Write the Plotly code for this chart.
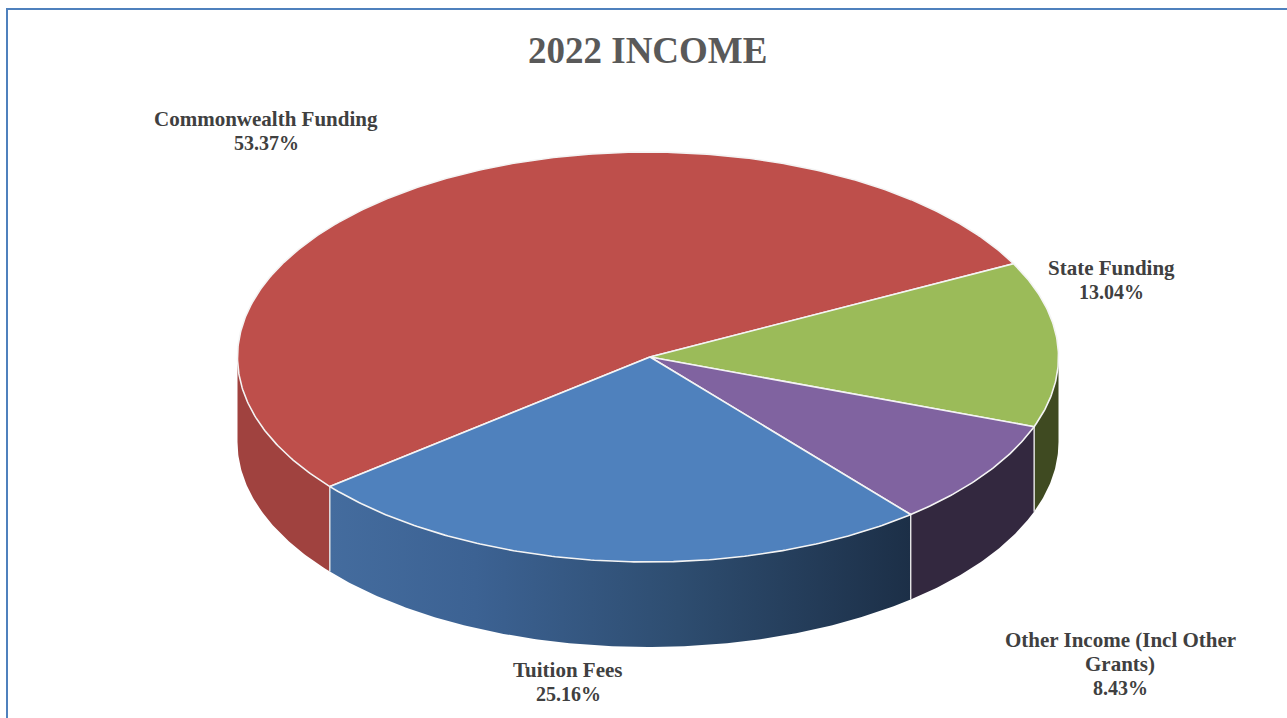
import numpy as np
import plotly.graph_objects as go

categories = ["Commonwealth Funding", "State Funding", "Other Income (Incl Other Grants)", "Tuition Fees"]
label_lines = [["Commonwealth Funding"], ["State Funding"], ["Other Income (Incl Other", "Grants)"], ["Tuition Fees"]]
shares = [53.37, 13.04, 8.43, 25.16]
top_colors = ["#BE4F4B", "#9BBB59", "#8063A0", "#4F81BD"]
wall_colors = ["#A0423F", "#3F4A21", "#33283F", None]
wall_gradient = [[0, "#446C9E"], [0.25, "#3C6293"], [0.6, "#2E4D70"], [1, "#1C2F47"]]
label_pos = [(266, 119), (1111, 268), (1120, 640), (568, 670)]

W, H = 1287, 718
CX, CY, RX, RY, DEPTH = 648, 357, 410.5, 205, 85
APEX_X = 650
START = 230.8  # clock angle where the first slice begins
LINE_GAP = 24


def rim(a0, a1):
    t = np.radians(np.linspace(a0, a1, max(int(abs(a1 - a0) * 2), 2)))
    return CX + RX * np.sin(t), CY - RY * np.cos(t)


fig = go.Figure()
edges = np.concatenate([[0], np.cumsum(shares)]) / sum(shares) * 360 + START
NONE = dict(mode="lines", hoverinfo="skip", showlegend=False)

# walls: only the parts of the rim facing the viewer (clock angles 90..270)
for i, col in enumerate(wall_colors):
    for lo, hi in [(90, 270), (450, 630)]:
        a0, a1 = max(edges[i], lo), min(edges[i + 1], hi)
        if a1 <= a0:
            continue
        x, y = rim(a0, a1)
        px = np.concatenate([x, x[::-1], x[:1]])
        py = np.concatenate([y, y[::-1] + DEPTH, y[:1]])
        kw = dict(fillcolor=col) if col else dict(
            fillgradient=dict(type="horizontal", colorscale=wall_gradient))
        fig.add_trace(go.Scatter(x=px, y=py, fill="toself", line=dict(width=0), **kw, **NONE))
        # light seams where walls meet
        for side in (a0, a1):
            if side in (lo, hi):
                continue
            sx, sy = rim(side, side + 1e-6)
            fig.add_trace(go.Scatter(x=[sx[0], sx[0]], y=[sy[0], sy[0] + DEPTH],
                                     line=dict(color="#E8E8E8", width=1.2), **NONE))

# top faces
for i, col in enumerate(top_colors):
    x, y = rim(edges[i], edges[i + 1])
    fig.add_trace(go.Scatter(x=np.concatenate([[APEX_X], x, [APEX_X]]), y=np.concatenate([[CY], y, [CY]]),
                             fill="toself", fillcolor=col,
                             line=dict(color="#F4F4F4", width=1.6), **NONE))

# frame
fig.add_shape(type="rect", x0=7, y0=9, x1=W + 20, y1=H + 20,
              line=dict(color="#4F81BD", width=2), fillcolor="rgba(0,0,0,0)", layer="below")

fig.add_annotation(x=647, y=50, text="<b>2022 INCOME</b>", showarrow=False,
                   font=dict(family="Liberation Serif", size=37, color="#595959"))
for lines, share, (lx, ly) in zip(label_lines, shares, label_pos):
    for n, s in enumerate(lines):
        fig.add_annotation(x=lx, y=ly + n * LINE_GAP, text=f"<b>{s}</b>", showarrow=False,
                           font=dict(family="Liberation Serif", size=21, color="#404040"))
    fig.add_annotation(x=lx, y=ly + len(lines) * LINE_GAP, text=f"<b>{share:.2f}%</b>", showarrow=False,
                       font=dict(family="Liberation Serif", size=20, color="#404040"))

fig.update_layout(width=W, height=H, margin=dict(l=0, r=0, t=0, b=0),
                  paper_bgcolor="white", plot_bgcolor="white", showlegend=False,
                  xaxis=dict(range=[0, W], visible=False, fixedrange=True),
                  yaxis=dict(range=[H, 0], visible=False, fixedrange=True))
fig.write_html("out.html", post_script="document.body.style.margin='0';",
               config=dict(displayModeBar=False))
